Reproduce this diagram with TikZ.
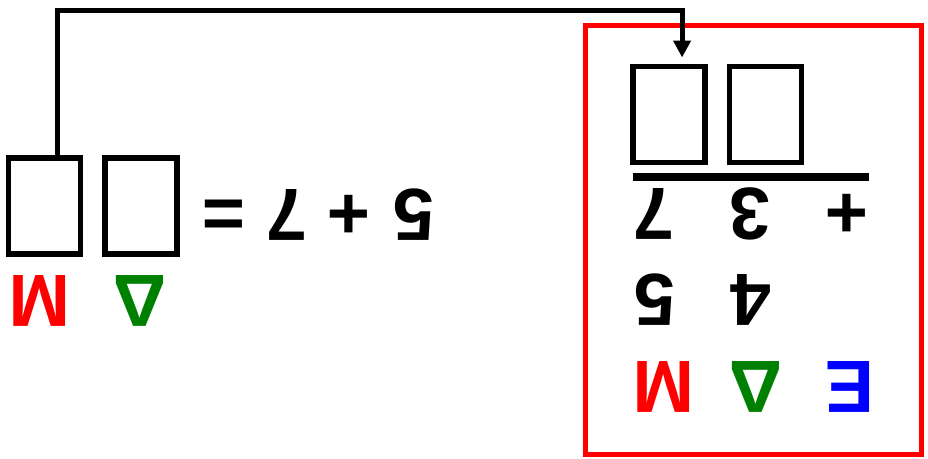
\documentclass[tikz,border=0pt]{standalone}
\usepackage{fontspec}
\setmainfont{Liberation Sans}
\usetikzlibrary{arrows.meta}
\definecolor{cred}{RGB}{255,0,0}
\definecolor{cgreen}{RGB}{0,128,0}
\definecolor{cblue}{RGB}{0,0,255}
\begin{document}
\begin{tikzpicture}[x=1pt,y=1pt,
  glyph/.style={rotate=180, inner sep=0pt, outer sep=0pt,
    font=\fontsize{74}{74}\selectfont\bfseries, text height=53pt, text depth=0pt},
  blank/.style={draw=black, line width=5.5pt, minimum width=72pt, minimum height=96pt,
    inner sep=0pt, outer sep=0pt},
  conn/.style={draw=black, line width=5pt, -{Triangle[width=17pt,length=17pt]}}]
\useasboundingbox (0,0) rectangle (928,-458);
% left equation
\node[blank] (b1) at (44.6,-205.9) {};
\node[blank] (b2) at (140.9,-205.9) {};
\node[glyph] (leq) at (223.5,-215.5) {=};
\node[glyph] (l7) at (286.5,-215.5) {7};
\node[glyph] (lplus) at (349,-215.5) {+};
\node[glyph] (l5) at (413.5,-215.5) {5};
\node[glyph, text=cred] (lM) at (40,-301.5) {Μ};
\node[glyph, text=cgreen] (lD) at (139.5,-301.5) {Δ};
% right frame
\draw[cred, line width=4.7pt] (585.3,-25.3) rectangle (921.7,-454.7);
\node[blank] (bA) at (669.1,-114.5) {};
\node[blank] (bB) at (765.4,-114.5) {};
\draw[black, line width=7.5pt] (633,-177) -- (869,-177);
\node[glyph] (r7) at (654,-215) {7};
\node[glyph] (r3) at (750,-215) {3};
\node[glyph] (rplus) at (847,-215) {+};
\node[glyph] (r5) at (654.5,-300.5) {5};
\node[glyph] (r4) at (750.5,-300.5) {4};
\node[glyph, text=cred] (rM) at (664,-387.5) {Μ};
\node[glyph, text=cgreen] (rD) at (756,-387.5) {Δ};
\node[glyph, text=cblue] (rE) at (849.5,-387.5) {Ε};
% connector
\coordinate (cs) at ([xshift=12.4pt]b1.north);
\coordinate (ce) at ([xshift=13pt]bA.north);
\coordinate (top) at (0,-10.5);
\draw[conn, shorten >=9pt] (cs) |- (top -| ce) -- (ce);
\end{tikzpicture}
\end{document}
